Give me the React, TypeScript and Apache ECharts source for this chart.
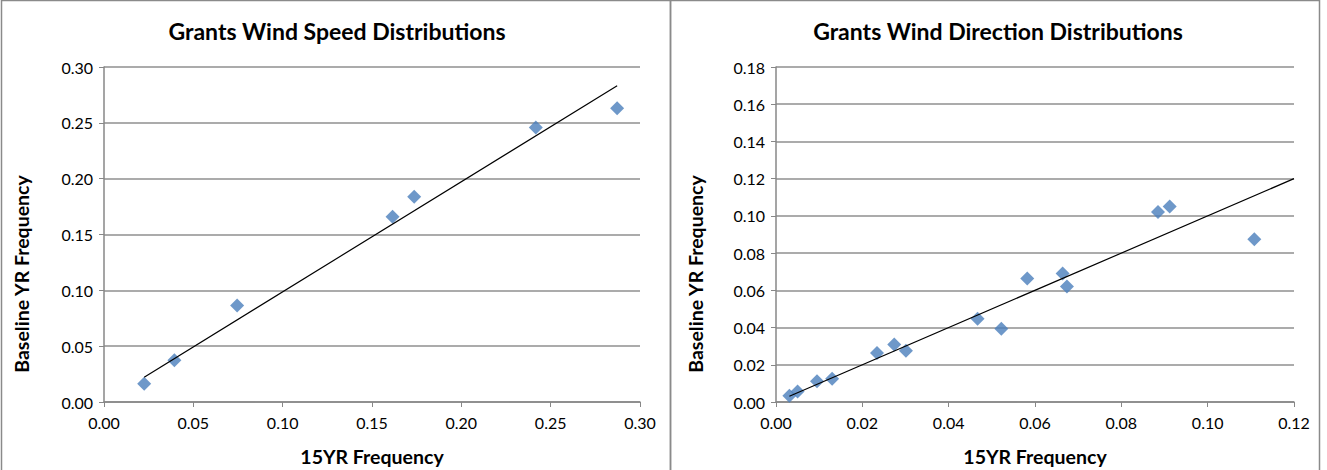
import React, { useEffect, useRef } from "react";
import * as echarts from "echarts";

// Wind speed chart data
const speed15yr = [0.0225, 0.0394, 0.0745, 0.1615, 0.1736, 0.2417, 0.2872];
const speedBaseline = [0.0164, 0.0375, 0.0864, 0.1659, 0.1838, 0.2458, 0.2631];
const speedTrendX = [0.0225, 0.2872];
const speedTrendY = [0.0222, 0.2833];

// Wind direction chart data
const dir15yr = [0.0031, 0.005, 0.0095, 0.013, 0.0234, 0.0274, 0.0301, 0.0467, 0.0522, 0.0582, 0.0664, 0.0674, 0.0885, 0.0912, 0.1108];
const dirBaseline = [0.0034, 0.0057, 0.0111, 0.0125, 0.0263, 0.0309, 0.0275, 0.0447, 0.0393, 0.0663, 0.069, 0.062, 0.1021, 0.1051, 0.0874];
const dirTrendX = [0.0031, 0.12];
const dirTrendY = [0.0031, 0.12];

const titles = ["Grants Wind Speed Distributions", "Grants Wind Direction Distributions"];
const xName = "15YR Frequency";
const yName = "Baseline YR Frequency";

const FONT = "Lato, 'Open Sans', sans-serif";
const AXIS_COLOR = "#878787";
const GRID_COLOR = "#8f8f8f";
const MARKER = "#4a7ebb";

function pairs(xs: number[], ys: number[]) {
  return xs.map((x, i) => [x, ys[i]]);
}

function makeAxis(gridIndex: number, max: number, interval: number, isY: boolean) {
  return {
    type: "value",
    gridIndex,
    min: 0,
    max,
    interval,
    axisLine: { show: true, lineStyle: { color: AXIS_COLOR, width: 1.5 } },
    axisTick: { show: true, inside: false, length: 5, lineStyle: { color: AXIS_COLOR } },
    axisLabel: {
      color: "#000",
      fontFamily: FONT,
      fontSize: 16,
      margin: isY ? 11 : 12,
      formatter: (v: number) => v.toFixed(2),
    },
    splitLine: { show: isY, lineStyle: { color: GRID_COLOR, width: 1.5 } },
  };
}

export default function App() {
  const ref = useRef<HTMLDivElement>(null);
  useEffect(() => {
    if (!ref.current) return;
    const chart = echarts.init(ref.current, undefined, { renderer: "svg" });
    const titleStyle = { fontFamily: FONT, fontSize: 23, fontWeight: "bold", fill: "#000" };
    const nameStyle = { fontFamily: FONT, fontSize: 19.5, fontWeight: "bold", fill: "#000" };
    chart.setOption({
      animation: false,
      backgroundColor: "#fff",
      grid: [
        { left: 104, right: 1327 - 640, top: 67, bottom: 470 - 402 },
        { left: 776, right: 1327 - 1294, top: 67, bottom: 470 - 402 },
      ],
      xAxis: [makeAxis(0, 0.3, 0.05, false), makeAxis(1, 0.12, 0.02, false)],
      yAxis: [makeAxis(0, 0.3, 0.05, true), makeAxis(1, 0.18, 0.02, true)],
      series: [
        {
          type: "scatter",
          xAxisIndex: 0,
          yAxisIndex: 0,
          symbol: "diamond",
          symbolSize: 14,
          itemStyle: { color: MARKER },
          data: pairs(speed15yr, speedBaseline),
          z: 3,
        },
        {
          type: "line",
          xAxisIndex: 0,
          yAxisIndex: 0,
          showSymbol: false,
          symbol: "none",
          lineStyle: { color: "#000", width: 1.2 },
          data: pairs(speedTrendX, speedTrendY),
          z: 4,
        },
        {
          type: "scatter",
          xAxisIndex: 1,
          yAxisIndex: 1,
          symbol: "diamond",
          symbolSize: 14,
          itemStyle: { color: MARKER },
          data: pairs(dir15yr, dirBaseline),
          z: 3,
        },
        {
          type: "line",
          xAxisIndex: 1,
          yAxisIndex: 1,
          showSymbol: false,
          symbol: "none",
          lineStyle: { color: "#000", width: 1.2 },
          data: pairs(dirTrendX, dirTrendY),
          z: 4,
        },
      ],
      graphic: [
        { type: "rect", shape: { x: 1.5, y: 0.5, width: 669, height: 480 }, style: { fill: "none", stroke: "#8a8a8a", lineWidth: 1.5 }, z: 10 },
        { type: "rect", shape: { x: 670.5, y: 0.5, width: 649, height: 480 }, style: { fill: "none", stroke: "#8a8a8a", lineWidth: 1.5 }, z: 10 },
        { type: "text", x: 337, y: 31, style: { ...titleStyle, text: titles[0], textAlign: "center", textVerticalAlign: "middle" } },
        { type: "text", x: 998, y: 31, style: { ...titleStyle, text: titles[1], textAlign: "center", textVerticalAlign: "middle" } },
        { type: "text", x: 372, y: 456, style: { ...nameStyle, text: xName, textAlign: "center", textVerticalAlign: "middle" } },
        { type: "text", x: 1035, y: 456, style: { ...nameStyle, text: xName, textAlign: "center", textVerticalAlign: "middle" } },
        { type: "text", x: 21, y: 274, rotation: Math.PI / 2, style: { ...nameStyle, text: yName, textAlign: "center", textVerticalAlign: "middle" } },
        { type: "text", x: 695, y: 274, rotation: Math.PI / 2, style: { ...nameStyle, text: yName, textAlign: "center", textVerticalAlign: "middle" } },
      ],
    });
    return () => chart.dispose();
  }, []);
  return <div ref={ref} style={{ position: "fixed", left: 0, top: 0, width: 1327, height: 470 }} />;
}
